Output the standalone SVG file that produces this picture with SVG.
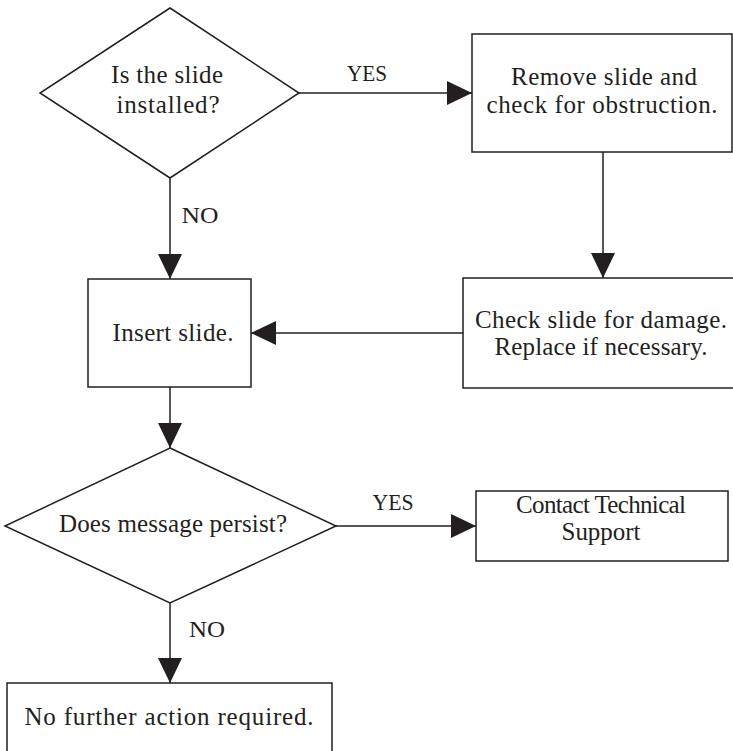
<svg xmlns="http://www.w3.org/2000/svg" width="733" height="751" viewBox="0 0 733 751">
<defs>
<marker id="ah" viewBox="0 0 25 24" refX="25" refY="12" markerWidth="25" markerHeight="24" markerUnits="userSpaceOnUse" orient="auto">
<path d="M0,0 L25,12 L0,24 Z" fill="#231f20"/>
</marker>
<style>
.shape{fill:#fff;stroke:#231f20;stroke-width:1.5}
.conn{fill:none;stroke:#231f20;stroke-width:1.5;marker-end:url(#ah)}
text{font-family:"Liberation Serif","Times New Roman",serif;font-size:25px;fill:#231f20;text-anchor:middle}
text.lbl{font-size:23px}
</style>
</defs>
<rect width="733" height="751" fill="#fff"/>
<g id="connectors">
<line class="conn" x1="299" y1="93" x2="472" y2="93"/>
<line class="conn" x1="170" y1="178" x2="170" y2="279"/>
<line class="conn" x1="603" y1="152" x2="603" y2="278"/>
<line class="conn" x1="463" y1="333" x2="251" y2="333"/>
<line class="conn" x1="170" y1="387" x2="170" y2="448"/>
<line class="conn" x1="336" y1="526" x2="476" y2="526"/>
<line class="conn" x1="170" y1="603" x2="170" y2="683"/>
<text class="lbl" x="367" y="81" textLength="40" lengthAdjust="spacingAndGlyphs">YES</text>
<text class="lbl" x="200" y="223" textLength="37" lengthAdjust="spacingAndGlyphs">NO</text>
<text class="lbl" x="393" y="510" textLength="41" lengthAdjust="spacingAndGlyphs">YES</text>
<text class="lbl" x="207" y="637" textLength="36" lengthAdjust="spacingAndGlyphs">NO</text>
</g>
<g id="q1">
<polygon class="shape" points="170,8 299,93 170,178 40,93"/>
<text x="167" y="83" textLength="112">Is the slide</text>
<text x="168" y="113" textLength="103">installed?</text>
</g>
<g id="remove">
<rect class="shape" x="472" y="34" width="260" height="118"/>
<text x="604" y="85" textLength="186">Remove slide and</text>
<text x="602" y="113" textLength="231">check for obstruction.</text>
</g>
<g id="check">
<rect class="shape" x="463" y="278" width="280" height="110"/>
<text x="601" y="328" textLength="252">Check slide for damage.</text>
<text x="601" y="355" textLength="213">Replace if necessary.</text>
</g>
<g id="insert">
<rect class="shape" x="88" y="279" width="163" height="108"/>
<text x="173" y="341" textLength="121">Insert slide.</text>
</g>
<g id="q2">
<polygon class="shape" points="170,448 336,526 170,603 5,526"/>
<text x="173" y="532" textLength="228">Does message persist?</text>
</g>
<g id="contact">
<rect class="shape" x="476" y="491" width="252" height="70"/>
<text x="601" y="513" textLength="170">Contact Technical</text>
<text x="601" y="540" textLength="79">Support</text>
</g>
<g id="nofurther">
<rect class="shape" x="7" y="683" width="325" height="80"/>
<text x="169" y="725" textLength="289">No further action required.</text>
</g>
</svg>
